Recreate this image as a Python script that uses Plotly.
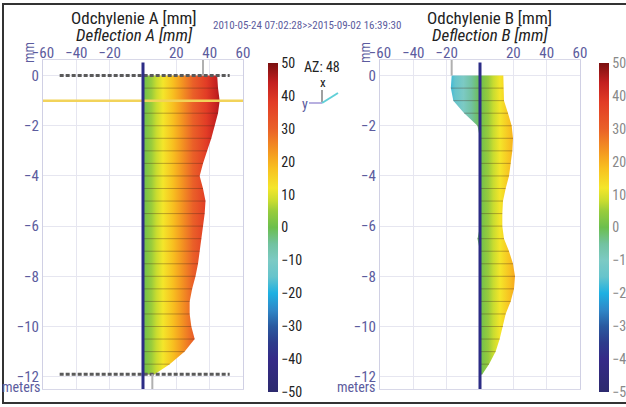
import plotly.graph_objects as go

# ---------------- data ----------------
depths = [0, -0.5, -1.0, -1.5, -2.0, -2.5, -3.0, -3.5, -4.0, -4.5, -5.0, -5.5, -6.0,
          -6.5, -7.0, -7.5, -8.0, -8.5, -9.0, -9.5, -10.0, -10.5, -11.0, -11.5, -11.9]
defl_a_right = [44.5, 45, 46, 45, 43, 41, 38.5, 36, 34, 36, 37.5, 37, 36,
                35, 34, 33, 31.5, 29.5, 28, 28, 29, 31, 25, 16, 7]
defl_a_left = [0] * len(depths)
defl_b_right = [14, 14, 14.4, 16.8, 19, 19.8, 19.4, 18.4, 17.4, 15.4, 13.8, 13.4, 13.4,
                14.4, 17.4, 19.8, 21, 20.4, 18.4, 15.4, 13.8, 11.8, 9.4, 5.4, 1.4]
defl_b_left = [-17, -17.5, -16, -9.5, -1.5, 0, 0, 0, 0, 0, 0, 0, 0,
               -1.5, 0, 0, 0, 0, 0, 0, 0, 0, 0, 0, 0]
x_ticks = [-60, -40, -20, 20, 40, 60]
y_ticks = [0, -2, -4, -6, -8, -10, -12]
cbar_ticks = [50, 40, 30, 20, 10, 0, -10, -20, -30, -40, -50]
a_limits_depth = [0, -11.9]          # dashed marker lines in A
a_limits_span = [-50, 52]
a_marker_depth = -1.0                # yellow level line in A
a_ghost_top = 36
a_ghost_bottom = 5.6
b_ghost_top = -17
date_range = "2010-05-24 07:02:28>>2015-09-02 16:39:30"
azimuth = 48

# ---------------- styling ----------------
FONT = "Liberation Sans Narrow, Roboto Condensed, Arial Narrow, Roboto, sans-serif"
AXC = "#5c5c9e"
cscale = [
    [0.00, "#2c2a6e"], [0.10, "#352a88"], [0.15, "#2d3c8c"], [0.20, "#2a5aa0"],
    [0.25, "#2f88c8"], [0.30, "#1eb0e2"], [0.35, "#66c4cc"], [0.40, "#7ccac4"],
    [0.45, "#72c2a0"], [0.50, "#6cbf4e"], [0.55, "#98cc3c"], [0.58, "#c8dc30"],
    [0.62, "#f4e62a"], [0.68, "#f8c020"], [0.72, "#f5a020"], [0.76, "#f08024"],
    [0.80, "#ea6028"], [0.88, "#e23c26"], [0.94, "#c42020"], [1.00, "#7a1010"]]

W, H = 626, 407
def px(x): return x / W
def py(y): return 1 - y / H

fig = go.Figure()

panels = [
    ("x", "y", defl_a_left, defl_a_right, [px(43), px(243)]),
    ("x2", "y2", defl_b_left, defl_b_right, [px(380), px(580)]),
]
ydom = [py(389), py(60)]
yrange = [-12.49, 0.62]

for xa, ya, left, right, dom in panels:
    # filled profile with horizontal gradient by deflection value
    xs = list(right) + list(reversed(left)) + [right[0]]
    ys = list(depths) + list(reversed(depths)) + [depths[0]]
    fig.add_trace(go.Scatter(
        x=xs, y=ys, xaxis=xa, yaxis=ya, mode="lines", line=dict(width=0),
        fill="toself",
        fillgradient=dict(type="horizontal", colorscale=cscale, start=-50, stop=50),
        hoverinfo="skip", showlegend=False))
    # row lines
    rx, ry = [], []
    for d, l, r in zip(depths[1:], left[1:], right[1:]):
        rx += [l, r, None]
        ry += [d, d, None]
    fig.add_trace(go.Scatter(x=rx, y=ry, xaxis=xa, yaxis=ya, mode="lines",
                             line=dict(color="rgba(70,40,30,0.35)", width=1),
                             hoverinfo="skip", showlegend=False))

# dashed limit lines in A
for d in a_limits_depth:
    fig.add_trace(go.Scatter(x=a_limits_span, y=[d, d], xaxis="x", yaxis="y", mode="lines",
                             line=dict(color="#5a5a5a", width=3, dash="4px,2px"),
                             hoverinfo="skip", showlegend=False))
# yellow level line in A
fig.add_trace(go.Scatter(x=[-60, 60], y=[a_marker_depth] * 2, xaxis="x", yaxis="y", mode="lines",
                         line=dict(color="#f2d35a", width=2.5), hoverinfo="skip", showlegend=False))
# ghost lines
fig.add_trace(go.Scatter(x=[a_ghost_top, a_ghost_top], y=[yrange[1], 0], xaxis="x", yaxis="y",
                         mode="lines", line=dict(color="#b0b0b0", width=2), showlegend=False, hoverinfo="skip"))
fig.add_trace(go.Scatter(x=[a_ghost_bottom, a_ghost_bottom], y=[depths[-1], yrange[0]], xaxis="x", yaxis="y",
                         mode="lines", line=dict(color="#b0b0b0", width=2), showlegend=False, hoverinfo="skip"))
fig.add_trace(go.Scatter(x=[b_ghost_top, b_ghost_top], y=[yrange[1], 0], xaxis="x2", yaxis="y2",
                         mode="lines", line=dict(color="#b0b0b0", width=2), showlegend=False, hoverinfo="skip"))

# centre lines
for xa, ya in [("x", "y"), ("x2", "y2")]:
    fig.add_trace(go.Scatter(x=[0, 0], y=[yrange[1] - 0.1, yrange[0]], xaxis=xa, yaxis=ya,
                             mode="lines", line=dict(color="#2c2c86", width=3),
                             showlegend=False, hoverinfo="skip"))

# colour bars (dummy traces)
for xa, ya, cx, tc in [("x", "y", px(268), "#222"), ("x2", "y2", px(599), "#888")]:
    fig.add_trace(go.Scatter(
        x=[0, 0], y=[-5, -5], xaxis=xa, yaxis=ya, mode="markers",
        marker=dict(color=[-50, 50], colorscale=cscale, cmin=-50, cmax=50, opacity=0, size=1,
                    showscale=True,
                    colorbar=dict(x=cx, xanchor="left", y=py(392), yanchor="bottom",
                                  len=(392 - 63) / H, lenmode="fraction", thickness=10,
                                  outlinewidth=0, tickvals=cbar_ticks, ticks="",
                                  xpad=0, ypad=0,
                                  tickfont=dict(family=FONT, size=14, color=tc))),
        hoverinfo="skip", showlegend=False))

axis_common = dict(range=[-60, 60], tickvals=x_ticks, side="top", showgrid=True,
                   gridcolor="#e6e6f0", gridwidth=1, zeroline=False, showline=True,
                   linecolor="#d8d8e8", mirror=True, ticks="", automargin=False,
                   ticklabelstandoff=-5,
                   tickfont=dict(family=FONT, size=15, color=AXC))
yaxis_common = dict(range=yrange, tickvals=y_ticks, showgrid=True, gridcolor="#e6e6f0",
                    zeroline=False, showline=True, linecolor="#d0d0e4", mirror=True, ticks="",
                    ticklabelstandoff=0, automargin=False,
                    tickfont=dict(family=FONT, size=15, color=AXC))

fig.update_layout(
    width=W, height=H, margin=dict(l=0, r=0, t=0, b=0, autoexpand=False),
    paper_bgcolor="white", plot_bgcolor="white",
    xaxis=dict(domain=panels[0][4], anchor="y", **axis_common),
    yaxis=dict(domain=ydom, anchor="x", **yaxis_common),
    xaxis2=dict(domain=panels[1][4], anchor="y2", **axis_common),
    yaxis2=dict(domain=ydom, anchor="x2", **yaxis_common),
)

ann = []
def A(text, x, y, size, color="#222", **kw):
    ann.append(dict(text=text, x=px(x), y=py(y), xref="paper", yref="paper", showarrow=False,
                    xanchor=kw.pop("xanchor", "center"), yanchor="middle",
                    font=dict(family=FONT, size=size, color=color), **kw))

A("Odchylenie A [mm]", 134, 18, 17)
A("<i>Deflection A [mm]</i>", 134, 35, 17)
A("Odchylenie B [mm]", 490, 18, 17)
A("<i>Deflection B [mm]</i>", 490, 35, 17)
A(date_range, 307, 25, 11, AXC)
A(f"AZ: {azimuth}", 322, 67, 14)
A("x", 323, 83, 13)
A("y", 305, 104, 14, AXC)
A("mm", 29, 53, 14, AXC, textangle=-90)
A("mm", 365, 53, 14, AXC, textangle=-90)
A("meters", 42, 387, 14, AXC, xanchor="right")
A("meters", 377, 387, 14, AXC, xanchor="right")
fig.update_layout(annotations=ann)

shapes = [
    dict(type="rect", xref="paper", yref="paper", x0=px(3), x1=px(640), y0=py(403), y1=py(4),
         line=dict(color="#333", width=2)),
    dict(type="line", xref="paper", yref="paper", x0=px(322), x1=px(322), y0=py(90), y1=py(103),
         line=dict(color="#a0a0a0", width=2)),
    dict(type="line", xref="paper", yref="paper", x0=px(309), x1=px(322), y0=py(103), y1=py(103),
         line=dict(color="#b8b0e0", width=2)),
    dict(type="line", xref="paper", yref="paper", x0=px(322), x1=px(338), y0=py(103), y1=py(93),
         line=dict(color="#60d0d8", width=2)),
]
fig.update_layout(shapes=shapes)

fig.write_html("out.html", config={"displayModeBar": False},
               post_script="document.body.style.margin='0';")
